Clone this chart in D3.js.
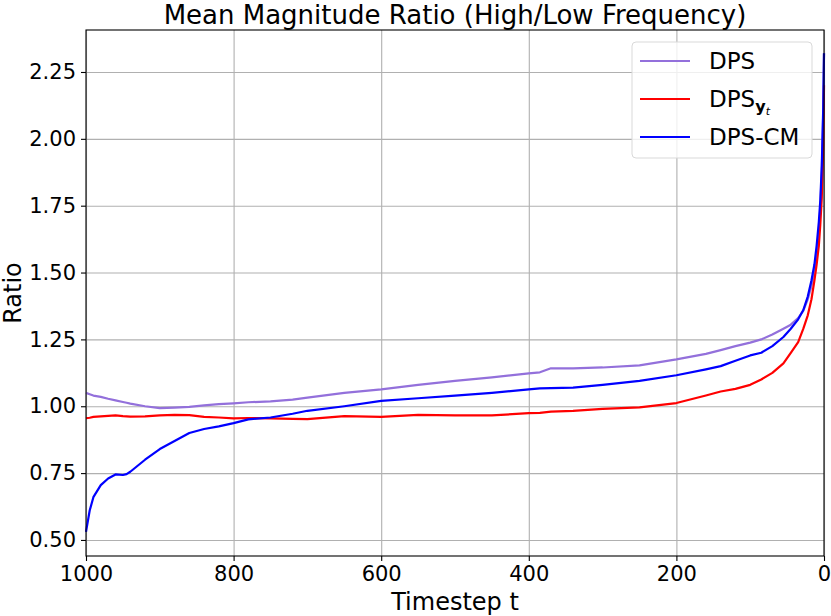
<!DOCTYPE html>
<html>
<head>
<meta charset="utf-8">
<script src="https://cdn.jsdelivr.net/npm/d3@7"></script>
<style>
  body { margin: 0; background: #fff; }
  text { font-family: "DejaVu Sans", sans-serif; fill: #000; }
  .grid line { stroke: #b0b0b0; stroke-width: 1.1; }
  .grid path { display: none; }
  .axis path, .axis line { stroke: #000; stroke-width: 1.1; }
</style>
</head>
<body>
<div id="chart"></div>
<script>
const WIDTH  = 831;
const HEIGHT = 616;
const MARGIN = { top: 30, right: 7, bottom: 60, left: 86 };
const INNER_WIDTH  = WIDTH - MARGIN.left - MARGIN.right;
const INNER_HEIGHT = HEIGHT - MARGIN.top - MARGIN.bottom;

// timesteps (shared by all series)
const timesteps = [1000, 995, 990, 980, 970, 960, 950, 945, 940, 920, 900, 880, 860, 840, 820,
  800, 780, 750, 720, 700, 650, 600, 550, 500, 450, 400, 385, 370, 340, 300, 250, 200, 160,
  140, 120, 100, 85, 70, 55, 45, 35, 28, 22, 17, 13, 10, 7, 5, 3, 1, 0];

const dps = [1.05, 1.045, 1.04, 1.035, 1.028, 1.022, 1.016, 1.013, 1.01, 1.0, 0.993, 0.995,
  0.998, 1.003, 1.008, 1.011, 1.015, 1.018, 1.025, 1.032, 1.05, 1.063, 1.08, 1.095, 1.108,
  1.123, 1.127, 1.142, 1.142, 1.145, 1.153, 1.175, 1.196, 1.21, 1.225, 1.238, 1.25, 1.268,
  1.29, 1.305, 1.33, 1.358, 1.4, 1.45, 1.5, 1.56, 1.65, 1.74, 1.88, 2.1, 2.32];

const dpsYt = [0.955, 0.957, 0.96, 0.962, 0.964, 0.966, 0.963, 0.962, 0.961, 0.962, 0.966,
  0.968, 0.967, 0.96, 0.958, 0.955, 0.956, 0.955, 0.953, 0.952, 0.963, 0.96, 0.968, 0.966,
  0.966, 0.974, 0.975, 0.98, 0.983, 0.99, 0.996, 1.012, 1.04, 1.055, 1.065, 1.08, 1.1, 1.125,
  1.16, 1.2, 1.24, 1.29, 1.34, 1.4, 1.47, 1.53, 1.6, 1.68, 1.78, 1.98, 2.2];

const dpsCm = [0.53, 0.61, 0.66, 0.705, 0.73, 0.745, 0.743, 0.746, 0.755, 0.8, 0.84, 0.87,
  0.9, 0.915, 0.925, 0.937, 0.951, 0.958, 0.972, 0.983, 1.0, 1.02, 1.03, 1.04, 1.05, 1.063,
  1.067, 1.068, 1.07, 1.08, 1.095, 1.116, 1.138, 1.15, 1.17, 1.19, 1.2, 1.225, 1.259, 1.29,
  1.325, 1.36, 1.41, 1.47, 1.53, 1.6, 1.69, 1.77, 1.9, 2.12, 2.32];

const xTicks = [1000, 800, 600, 400, 200, 0];
const yTicks = [0.5, 0.75, 1.0, 1.25, 1.5, 1.75, 2.0, 2.25];

const series = [
  { name: 'DPS',    values: dps,   color: '#9370db' },
  { name: 'DPS_yt', values: dpsYt, color: '#ff0000' },
  { name: 'DPS-CM', values: dpsCm, color: '#0000ff' }
];

const svg = d3.select('#chart').append('svg')
  .attr('width', WIDTH)
  .attr('height', HEIGHT)
  .append('g')
    .attr('transform', 'translate(' + MARGIN.left + ',' + MARGIN.top + ')');

const x = d3.scaleLinear().domain([1000, 0]).range([0, INNER_WIDTH]);
const y = d3.scaleLinear().domain([0.44, 2.407]).range([INNER_HEIGHT, 0]);

// grid
svg.append('g')
  .attr('class', 'grid')
  .attr('transform', 'translate(0,' + INNER_HEIGHT + ')')
  .call(d3.axisBottom(x).tickValues(xTicks).tickSize(-INNER_HEIGHT).tickFormat(''));
svg.append('g')
  .attr('class', 'grid')
  .call(d3.axisLeft(y).tickValues(yTicks).tickSize(-INNER_WIDTH).tickFormat(''));

// lines
const line = d3.line()
  .x((d, i) => x(timesteps[i]))
  .y(d => y(d));

series.forEach(s => {
  svg.append('path')
    .datum(s.values)
    .attr('fill', 'none')
    .attr('stroke', s.color)
    .attr('stroke-width', 2.2)
    .attr('stroke-linejoin', 'round')
    .attr('d', line);
});

// frame
svg.append('rect')
  .attr('width', INNER_WIDTH)
  .attr('height', INNER_HEIGHT)
  .attr('fill', 'none')
  .attr('stroke', '#000')
  .attr('stroke-width', 1.1);

// axes
svg.append('g')
  .attr('class', 'axis')
  .attr('transform', 'translate(0,' + INNER_HEIGHT + ')')
  .call(d3.axisBottom(x).tickValues(xTicks).tickSize(5).tickPadding(5).tickFormat(d3.format('d')));
svg.append('g')
  .attr('class', 'axis')
  .call(d3.axisLeft(y).tickValues(yTicks).tickSize(5).tickPadding(5).tickFormat(d3.format('.2f')));
svg.selectAll('.axis path').remove();
svg.selectAll('.axis text').style('font-size', '21px').attr('font-family', null);

// titles
svg.append('text')
  .attr('x', INNER_WIDTH / 2)
  .attr('y', -6)
  .style('text-anchor', 'middle')
  .style('font-size', '26px')
  .text('Mean Magnitude Ratio (High/Low Frequency)');

svg.append('text')
  .attr('x', INNER_WIDTH / 2)
  .attr('y', INNER_HEIGHT + 54)
  .style('text-anchor', 'middle')
  .style('font-size', '24px')
  .text('Timestep t');

svg.append('text')
  .attr('transform', 'rotate(-90)')
  .attr('x', -INNER_HEIGHT / 2)
  .attr('y', -65)
  .style('text-anchor', 'middle')
  .style('font-size', '24px')
  .text('Ratio');

// legend
const legend = svg.append('g')
  .attr('transform', 'translate(' + (632 - MARGIN.left) + ',' + (42 - MARGIN.top) + ')');
legend.append('rect')
  .attr('width', 180)
  .attr('height', 116)
  .attr('rx', 4)
  .attr('fill', '#fff')
  .attr('fill-opacity', 0.8)
  .attr('stroke', '#d9d9d9');

series.forEach((s, i) => {
  const ly = 19 + i * 38;
  legend.append('line')
    .attr('x1', 8).attr('x2', 58)
    .attr('y1', ly).attr('y2', ly)
    .attr('stroke', s.color)
    .attr('stroke-width', 2.2);
  const t = legend.append('text')
    .attr('x', 77)
    .attr('y', ly + 8)
    .style('font-size', '23px');
  if (s.name === 'DPS_yt') {
    t.append('tspan').text('DPS');
    t.append('tspan').attr('dy', 5).style('font-size', '16px').style('font-weight', 'bold').text('y');
    t.append('tspan').attr('dy', 3).style('font-size', '11px').style('font-style', 'italic').text('t');
  } else {
    t.text(s.name);
  }
});
</script>
</body>
</html>
